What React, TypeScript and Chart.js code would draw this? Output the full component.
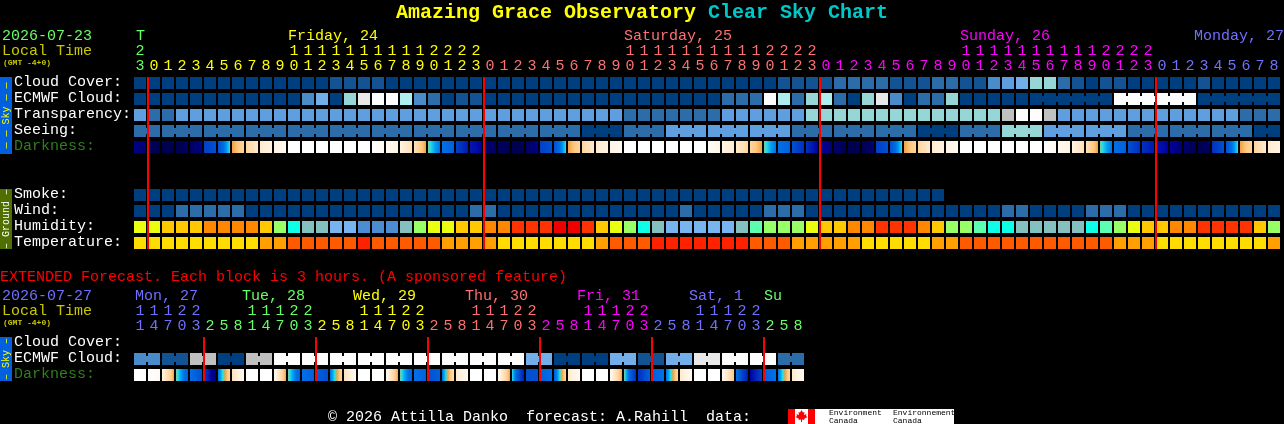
import React, { useEffect, useRef } from "react";
import { Chart, registerables } from "chart.js";

Chart.register(...registerables);

// ---------- Main (hourly) forecast ----------
const mainHours = [23,0,1,2,3,4,5,6,7,8,9,10,11,12,13,14,15,16,17,18,19,20,21,22,23,0,1,2,3,4,5,6,7,8,9,10,11,12,13,14,15,16,17,18,19,20,21,22,23,0,1,2,3,4,5,6,7,8,9,10,11,12,13,14,15,16,17,18,19,20,21,22,23,0,1,2,3,4,5,6,7,8];
const mainDayFirstColumn = [0, 1, 25, 49, 73];
const mainDayNames = ["T", "Friday, 24", "Saturday, 25", "Sunday, 26", "Monday, 27"];
const mainDayLabelColumn = [0, 11, 35, 59, 75.714];
const midnightColumns = [1, 25, 49, 73];

const cloudCover = [0,0,0,0,0,0,0,0,0,0,0,0,0,0,1,1,1,1,0,0,0,0,0,0,0,0,0,0,0,0,0,0,0,0,0,0,0,0,0,0,0,0,0,0,0,0,1,1,1,1,2,2,2,2,1,1,1,2,2,1,1,3,4,5,6,6,2,1,0,1,1,0,0,0,0,0,1,0,0,0,0,0];
const ecmwfCloud = [0,0,0,0,0,0,0,0,0,0,0,0,3,5,0,6,9,10,10,7,3,2,0,1,1,0,0,0,0,0,0,0,0,0,0,0,0,0,0,0,0,0,2,2,2,10,7,2,6,7,2,0,6,9,3,0,2,2,6,0,0,0,0,0,0,0,0,0,0,0,10,10,10,10,10,10,0,0,0,0,0,0];
const ecmwfJoinedSpans = [[64, 69], [70, 75], [76, 81]];
const transparency = [4,2,2,4,4,4,4,4,4,4,4,4,4,4,4,4,4,4,4,4,4,4,4,4,4,4,4,4,4,4,4,4,4,4,4,2,2,2,2,2,2,2,4,4,4,4,4,4,6,6,6,6,6,6,6,6,6,6,6,6,6,6,8,10,10,8,4,4,4,4,4,4,4,4,4,4,4,4,4,2,2,2];
const seeingBlockSizes = [2,3,3,3,3,3,3,3,3,3,3,3,3,3,3,3,3,3,3,3,3,3,3,3,3,3,3,2];
const seeingBlockLevels = [2,2,2,2,2,2,2,2,2,2,2,0,2,4,4,4,2,2,2,0,2,6,4,4,2,2,2,0];
const darknessStart = [8.5,9.5,10,10,9.5,6.5,6,3.5,2.5,1.5,1,0,0,0,0,0,0,0,0.5,1,2,3.8,5,6.5,7.5,9,9.5,10,9.5,6.5,6,3.5,2.5,1.5,1,0,0,0,0,0,0,0.3,1,1.5,2.5,3.8,5,6,7,8,9,10,10,6.5,6,3.5,2.5,1.5,1,0,0,0,0,0,0,0,0.5,1,2,3.8,5,6,7,7.5,8,9,10,7,6,3.5,2.5,1.5];
const darknessEnd = [9,10,10,9.5,8.5,6,4,2.5,1.5,1,0.5,0,0,0,0,0,0,0.5,1,2,3.5,5,5.5,7.5,8,9.5,10,10,8.5,6,4,2.5,1.5,1,0.5,0,0,0,0,0,0,0.8,1.5,2.5,3.5,5,5.5,7,8,9,10,10,9,6,4,2.5,1.5,1,0.5,0,0,0,0,0,0,0.5,1,2,3.5,5,5.5,7,7.5,8,9,10,9.5,6,4,2.5,1.5,1];
const smoke = [0,0,0,0,0,0,0,0,0,0,0,0,0,0,0,0,0,0,0,0,0,0,0,0,0,0,0,0,0,0,0,0,0,0,0,0,0,0,0,0,0,0,0,0,0,0,0,0,0,0,0,0,0,0,0,0,0,0];
const wind = [0,0,0,2,2,2,2,2,0,0,0,0,0,0,0,0,0,0,0,0,0,0,0,0,2,2,0,0,0,0,0,0,0,0,0,0,0,0,0,2,0,0,0,0,0,2,2,2,0,0,0,0,0,0,0,0,0,0,0,0,0,0,2,2,0,0,0,0,2,2,2,0,0,0,0,0,0,0,0,0,0,0];
const humidity = [0,0,1,1,1,2,2,2,2,1,5,7,8,8,9,9,10,10,10,8,5,0,0,1,1,2,2,3,3,3,4,4,3,1,0,5,7,8,9,9,9,9,9,8,6,5,5,5,0,1,1,2,2,3,3,3,2,1,5,5,6,7,7,8,8,8,8,8,7,6,5,0,1,1,2,2,3,3,3,3,1,5];
const temperature = [0,0,0,0,0,0,0,0,0,1,1,2,2,2,2,2,3,2,2,2,2,2,1,1,1,1,0,0,0,0,0,0,0,1,2,2,2,3,3,3,3,3,3,3,2,2,2,1,1,1,1,1,0,0,0,0,0,1,1,2,2,2,2,2,2,2,2,2,2,2,1,1,1,0,0,0,0,0,0,0,0,1];

// ---------- Extended (3-hourly) forecast ----------
const extHours = [11,14,17,20,23,2,5,8,11,14,17,20,23,2,5,8,11,14,17,20,23,2,5,8,11,14,17,20,23,2,5,8,11,14,17,20,23,2,5,8,11,14,17,20,23,2,5,8];
const extDayFirstColumn = [0, 5, 13, 21, 29, 37, 45];
const extDayNames = ["Mon, 27", "Tue, 28", "Wed, 29", "Thu, 30", "Fri, 31", "Sat, 1", "Su"];
const extDayLabelX = [135, 242, 353, 465, 577, 689, 764];
const extMidnightColumns = [5, 13, 21, 29, 37, 45];
const extEcmwfPairs = [3,1,8,0,8,10,10,10,10,10,10,10,10,10,5,0,0,5,1,5,9,10,10,2];
const extDarknessStart = [0,0,1,3.8,5,6.5,5,2,0,0,0.5,3.8,5,5.5,5,2,0,0,0.5,3.8,5,6,5,1.5,0,0,0.5,4,6,5.5,5.5,1.5,0,0,0.5,3.8,7,5.5,5,1.5,0,0,0.5,5,8,5.5,5,1.5];
const extDarknessEnd = [0,0.5,3.5,5.5,6,9,2.5,0.5,0,0,3.5,5.5,5.5,6,2.5,0.5,0,0.2,3.5,5.5,5.5,5.5,2,0.5,0,0,3.5,7.5,6,5,2.5,0.5,0,0,3.5,7,5.5,5,2.5,0.5,0,0,3,7.5,6.5,5,2.5,0.5];

const rowLabels = ["Cloud Cover:", "ECMWF Cloud:", "Transparency:", "Seeing:", "Darkness:", "Smoke:", "Wind:", "Humidity:", "Temperature:"];
const extRowLabels = ["Cloud Cover:", "ECMWF Cloud:", "Darkness:"];
const rowPositions = [0, 1, 2, 3, 4, 7, 8, 9, 10];
const extRowPositions = [16.25, 17.25, 18.25];

// ---------- Styles ----------
const skyPalette = ["#003f7f", "#135393", "#2c6ca9", "#4a8bc9", "#609fdf", "#72aeea", "#96d6d6", "#aeeeee", "#c0c0c0", "#e8e8e8", "#fdfdfd"];
const humidityPalette = ["#eaff10", "#ffc800", "#ff8800", "#ff3300", "#ee0000", "#99ff66", "#5cffb0", "#0dffe8", "#84c0c0", "#78b4f0", "#4b8cd2"];
const temperaturePalette = ["#ffdd00", "#ff9f00", "#ff5a00", "#ff2200"];
const darknessRamp: [number, number[]][] = [
  [0, [255, 255, 255]], [1, [255, 244, 228]], [2, [255, 224, 184]], [3, [255, 200, 128]], [3.5, [240, 160, 64]],
  [4, [48, 224, 224]], [4.5, [0, 160, 240]], [5, [0, 112, 232]], [6, [0, 80, 208]], [7, [0, 48, 192]],
  [8, [0, 0, 160]], [9, [0, 0, 112]], [10, [0, 0, 80]],
];
const dayColors = ["#66ff66", "#ffff00", "#ff7070", "#ff00ff", "#7070ff"];
const extDayColors = ["#7070ff", "#66ff66", "#ffff00", "#ff7070", "#ff00ff", "#7070ff", "#66ff66"];

const WIDTH = 1284;
const HEIGHT = 424;
const COL = 14;
const ROW = 16;
const X0 = 134;
const Y0 = 83;
const CELL = 12 / COL;
const MONO = '"Liberation Mono", monospace';

function rampColor(v: number) {
  for (let i = 1; i < darknessRamp.length; i++) {
    const [a, ca] = darknessRamp[i - 1];
    const [b, cb] = darknessRamp[i];
    if (v <= b) {
      const t = (v - a) / (b - a);
      const c = ca.map((q, k) => Math.round(q + (cb[k] - q) * t));
      return `rgb(${c[0]},${c[1]},${c[2]})`;
    }
  }
  return "rgb(0,0,80)";
}

function cellRow(label: string, values: number[], palette: string[], y: number) {
  return {
    label,
    order: 5,
    barThickness: 12,
    data: values.map((_, i) => ({ x: [i, i + CELL], y })),
    backgroundColor: values.map((v) => palette[v]),
  };
}

function joinRow(label: string, spans: number[][], levels: number[], y: number) {
  const data: any[] = [];
  const colors: string[] = [];
  spans.forEach(([from, to], k) => {
    for (let i = from; i < to; i++) {
      data.push({ x: [i + CELL, i + 1], y });
      colors.push(skyPalette[levels[k]]);
    }
  });
  return { label, order: 5, barThickness: 6, data, backgroundColor: colors };
}

function darknessRow(label: string, start: number[], end: number[], y: number) {
  return {
    label,
    order: 5,
    barThickness: 12,
    data: start.map((_, i) => ({ x: [i, i + CELL], y })),
    backgroundColor: (ctx: any) => {
      const i = ctx.dataIndex;
      if (i === undefined) return "#000";
      const left = X0 + COL * i;
      const g = ctx.chart.ctx.createLinearGradient(left, 0, left + COL * CELL, 0);
      const n = 10;
      for (let k = 0; k <= n; k++) g.addColorStop(k / n, rampColor(start[i] + ((end[i] - start[i]) * k) / n));
      return g;
    },
  };
}

function redLine(col: number, from: number, to: number) {
  return {
    type: "line",
    label: "midnight",
    order: 1,
    data: [{ x: col, y: from }, { x: col, y: to }],
    borderColor: "#ff0000",
    borderWidth: 2,
    pointRadius: 0,
    fill: false,
  };
}

function colorForColumn(col: number, first: number[], colors: string[]) {
  let c = colors[0];
  first.forEach((f, k) => { if (col >= f) c = colors[k]; });
  return c;
}

const textPlugin = {
  id: "clearSkyText",
  beforeDraw(chart: any) {
    const c = chart.ctx;
    c.save();
    c.fillStyle = "#000";
    c.fillRect(0, 0, WIDTH, HEIGHT);
    c.fillStyle = "#0060e0";
    c.fillRect(0, 77, 12, 77);
    c.fillRect(0, 337, 12, 44);
    c.fillStyle = "#4f6f00";
    c.fillRect(0, 189, 12, 60);
    c.restore();
  },
  afterDraw(chart: any) {
    const c = chart.ctx;
    const put = (t: string, x: number, y: number, color: string, font = `15px ${MONO}`, align: CanvasTextAlign = "left") => {
      c.font = font;
      c.fillStyle = color;
      c.textAlign = align;
      c.fillText(t, x, y);
    };
    const colCenter = (i: number) => X0 + COL * i + 6;
    const vertical = (t: string, cy: number, color: string) => {
      c.save();
      c.translate(6, cy);
      c.rotate(-Math.PI / 2);
      c.textBaseline = "middle";
      put(t, 0, 0, color, `10px ${MONO}`, "center");
      c.restore();
    };
    c.save();
    c.textBaseline = "alphabetic";
    put("Amazing Grace Observatory", 396, 18, "#ffff00", `bold 20px ${MONO}`);
    put("Clear Sky Chart", 708, 18, "#00c8c8", `bold 20px ${MONO}`);

    put("2026-07-23", 2, 40, "#66ff66");
    put("Local Time", 2, 55, "#c8c800");
    put("(GMT -4+0)", 3, 65, "#c8c800", `bold 8px ${MONO}`);
    mainDayNames.forEach((d, k) => put(d, k === 0 ? X0 + 2 : X0 + COL * mainDayLabelColumn[k], 40, dayColors[k]));
    mainHours.forEach((h, i) => {
      const col = colorForColumn(i, mainDayFirstColumn, dayColors);
      if (h >= 10) put(String(Math.floor(h / 10)), colCenter(i), 55, col, undefined, "center");
      put(String(h % 10), colCenter(i), 70, col, undefined, "center");
    });
    rowLabels.forEach((t, k) => {
      put(t, 14, Y0 + ROW * rowPositions[k] + 3, t === "Darkness:" ? "#2f7f1f" : "#ffffff");
    });

    put("EXTENDED Forecast. Each block is 3 hours. (A sponsored feature)", 0, 281, "#ff0000");
    put("2026-07-27", 2, 300, "#7070ff");
    put("Local Time", 2, 315, "#c8c800");
    put("(GMT -4+0)", 3, 325, "#c8c800", `bold 8px ${MONO}`);
    extDayNames.forEach((d, k) => put(d, extDayLabelX[k], 300, extDayColors[k]));
    extHours.forEach((h, i) => {
      const col = colorForColumn(i, extDayFirstColumn, extDayColors);
      if (h >= 10) put(String(Math.floor(h / 10)), colCenter(i), 315, col, undefined, "center");
      put(String(h % 10), colCenter(i), 330, col, undefined, "center");
    });
    extRowLabels.forEach((t, k) => {
      put(t, 14, Y0 + ROW * extRowPositions[k] + 3, t === "Darkness:" ? "#2f7f1f" : "#ffffff");
    });

    vertical("\u2014 \u2014 Sky \u2014 \u2014", 115.5, "#ffff00");
    vertical("\u2013 Ground \u2013", 219, "#ffffff");
    vertical("\u2013 Sky \u2013", 359, "#ffff00");

    put("\u00a9 2026 Attilla Danko  forecast: A.Rahill  data:", 328, 421, "#ffffff");

    // Environment Canada logo
    c.fillStyle = "#ffffff";
    c.fillRect(795, 409, 159, 15);
    c.fillStyle = "#ff0000";
    c.fillRect(788, 409, 7, 15);
    c.fillRect(808, 409, 7, 15);
    c.beginPath();
    const leaf = [[0,-6],[1.5,-3.5],[3,-4],[2.5,-1],[5,-2],[4.5,0],[6,1],[2.5,3],[3,4],[0.5,3.5],[0.5,6],[-0.5,6],[-0.5,3.5],[-3,4],[-2.5,3],[-6,1],[-4.5,0],[-5,-2],[-2.5,-1],[-3,-4],[-1.5,-3.5]];
    leaf.forEach(([x, y], i) => (i ? c.lineTo(801.5 + x, 416 + y) : c.moveTo(801.5 + x, 416 + y)));
    c.closePath();
    c.fill();
    const small = `8px ${MONO}`;
    put("Environment", 829, 415, "#000000", small);
    put("Canada", 829, 423, "#000000", small);
    put("Environnement", 893, 415, "#000000", small);
    put("Canada", 893, 423, "#000000", small);
    c.restore();
  },
};

export default function App() {
  const ref = useRef<HTMLCanvasElement | null>(null);

  useEffect(() => {
    document.body.style.margin = "0";
    document.body.style.background = "#000";
    document.body.style.overflow = "hidden";

    const seeing = seeingBlockSizes.flatMap((n, k) => Array(n).fill(seeingBlockLevels[k]));
    let cursor = 0;
    const seeingSpans = seeingBlockSizes.map((n) => {
      const span = [cursor, cursor + n - 1];
      cursor += n;
      return span;
    });
    const extEcmwf = extEcmwfPairs.flatMap((v) => [v, v]);
    const extSpans = extEcmwfPairs.map((_, k) => [2 * k, 2 * k + 1]);

    const datasets: any[] = [
      ...midnightColumns.map((c) => redLine(c, -0.375, 10.375)),
      ...extMidnightColumns.map((c) => redLine(c, 15.875, 18.625)),
      cellRow("Cloud Cover", cloudCover, skyPalette, rowPositions[0]),
      cellRow("ECMWF Cloud", ecmwfCloud, skyPalette, rowPositions[1]),
      joinRow("ECMWF joins", ecmwfJoinedSpans, ecmwfJoinedSpans.map(([a]) => ecmwfCloud[a]), rowPositions[1]),
      cellRow("Transparency", transparency, skyPalette, rowPositions[2]),
      cellRow("Seeing", seeing, skyPalette, rowPositions[3]),
      joinRow("Seeing joins", seeingSpans, seeingBlockLevels, rowPositions[3]),
      darknessRow("Darkness", darknessStart, darknessEnd, rowPositions[4]),
      cellRow("Smoke", smoke, skyPalette, rowPositions[5]),
      cellRow("Wind", wind, skyPalette, rowPositions[6]),
      cellRow("Humidity", humidity, humidityPalette, rowPositions[7]),
      cellRow("Temperature", temperature, temperaturePalette, rowPositions[8]),
      cellRow("Extended ECMWF Cloud", extEcmwf, skyPalette, extRowPositions[1]),
      joinRow("Extended ECMWF joins", extSpans, extEcmwfPairs, extRowPositions[1]),
      darknessRow("Extended Darkness", extDarknessStart, extDarknessEnd, extRowPositions[2]),
    ];

    const chart = new Chart(ref.current as HTMLCanvasElement, {
      type: "bar",
      data: { datasets },
      options: {
        animation: false,
        responsive: false,
        indexAxis: "y",
        devicePixelRatio: 1,
        layout: { padding: 0 },
        datasets: { bar: { grouped: false, inflateAmount: 0, borderWidth: 0 } },
        plugins: { legend: { display: false }, tooltip: { enabled: false }, title: { display: false } },
        events: [],
        scales: {
          x: { type: "linear", display: false, offset: false, min: -X0 / COL, max: (WIDTH - X0) / COL },
          y: { type: "linear", display: false, offset: false, reverse: true, min: -Y0 / ROW, max: (HEIGHT - Y0) / ROW },
        },
      } as any,
      plugins: [textPlugin],
    } as any);
    return () => chart.destroy();
  }, []);

  return <canvas ref={ref} width={WIDTH} height={HEIGHT} style={{ display: "block" }} />;
}
